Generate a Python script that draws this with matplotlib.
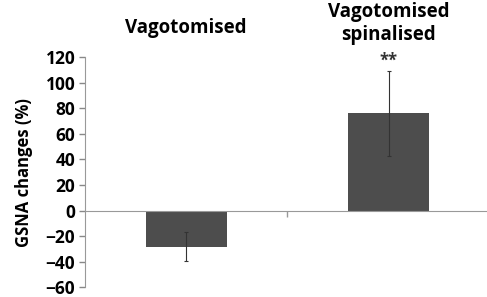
import matplotlib.pyplot as plt
import numpy as np

# data
groups = ["Vagotomised", "Vagotomised\nspinalised"]
changes = [-28, 76]
errors = [11, 33]
marks = ["", "**"]

plt.rcParams['font.family'] = ['Open Sans', 'DejaVu Sans']

fig = plt.figure(figsize=(4.87, 2.97), dpi=100)
ax = fig.add_axes([0.1745, 0.032, 0.8316, 0.776])

x = np.arange(len(groups))
ax.bar(x, changes, width=0.4, color="#4d4d4d", zorder=2)
ax.errorbar(x, changes, yerr=errors, fmt="none", ecolor="#333333",
            elinewidth=0.8, capsize=1.5, capthick=0.8, zorder=3)

ax.set_xlim(-0.5, 1.5)
ax.set_ylim(-60, 120)
ax.set_yticks(np.arange(-60, 121, 20))
ax.tick_params(axis='y', labelsize=12.5, colors="#888888", labelcolor="black",
               length=4, width=1, pad=3)
for lab in ax.get_yticklabels():
    lab.set_fontweight('bold')

# zero line acts as the category axis (ticks between categories, excel style)
ax.spines['bottom'].set_position(('data', 0))
ax.spines['bottom'].set_color("#999999")
ax.spines['left'].set_color("#999999")
ax.spines['top'].set_visible(False)
ax.spines['right'].set_visible(False)
ax.set_xticks([0.5])
ax.set_xticklabels([""])
ax.tick_params(axis='x', length=4, width=1, colors="#999999")

ax.set_ylabel("GSNA changes (%)", fontsize=12, fontweight='bold', labelpad=9)

# group names on top
for xi, g in zip(x, groups):
    nl = g.count("\n")
    ax.text(xi, 1.125 + 0.022 * nl, g, transform=ax.get_xaxis_transform(),
            ha='center', va='center', fontsize=13.5, fontweight='bold',
            clip_on=False, linespacing=1.2)
for xi, v, e, m in zip(x, changes, errors, marks):
    if m:
        ax.text(xi, v + e + 1, m, ha='center', va='bottom', fontsize=12,
                fontweight='bold', color="#333333")

fig.savefig("out.png", dpi=100)
